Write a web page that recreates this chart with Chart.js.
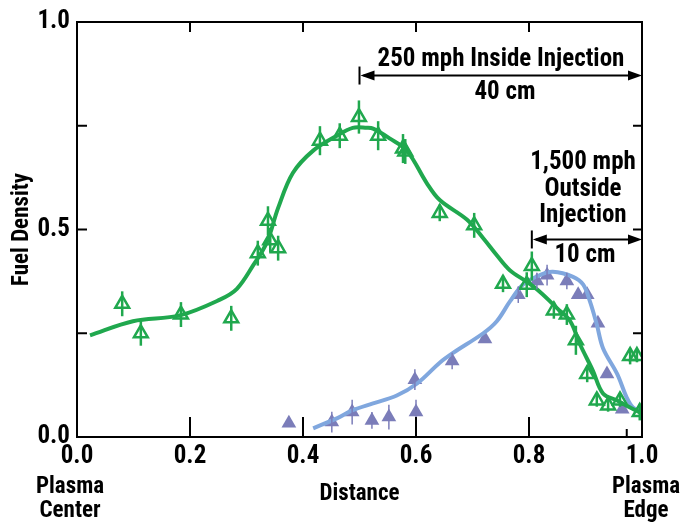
<!DOCTYPE html>
<html>
<head>
<meta charset="utf-8">
<script src="https://cdn.jsdelivr.net/npm/chart.js@4/dist/chart.umd.min.js"></script>
<style>
html,body{margin:0;padding:0;background:#fff;}
#wrap{width:684px;height:527px;}
</style>
</head>
<body>
<div id="wrap"><canvas id="c" width="684" height="527"></canvas></div>
<script>
// ---- data ----
const xTickValues = [0, 0.2, 0.4, 0.6, 0.8, 1.0];
const yTickValues = [0, 0.5, 1.0];
const minorYTicks = [0.25, 0.5, 0.75];
const minorXTicks = [0.2, 0.4, 0.6, 0.8];

// 250 mph inside injection (green)
const insideX = [0.080,0.113,0.184,0.273,0.320,0.338,0.342,0.356,0.430,0.465,0.499,0.533,0.577,0.581,0.642,0.703,0.754,0.796,0.805,0.844,0.867,0.883,0.903,0.920,0.940,0.961,0.979,0.991,0.996];
const insideY = [0.321,0.250,0.295,0.286,0.443,0.521,0.474,0.455,0.714,0.726,0.771,0.726,0.695,0.688,0.540,0.510,0.369,0.367,0.412,0.305,0.295,0.233,0.152,0.088,0.076,0.088,0.195,0.195,0.060];
const insideErr = [0.03,0.03,0.03,0.03,0.03,0.035,0.03,0.03,0.035,0.03,0.04,0.035,0.035,0.03,0.02,0.03,0.02,0.03,0.035,0.02,0.025,0.035,0.02,0.015,0.015,0.015,0.02,0.015,0.02];
const insideFitX = [0.023,0.099,0.182,0.253,0.283,0.312,0.336,0.356,0.382,0.418,0.460,0.488,0.513,0.524,0.554,0.584,0.619,0.642,0.690,0.719,0.743,0.766,0.796,0.819,0.850,0.873,0.890,0.913,0.931,0.956,0.979,1.0];
const insideFitY = [0.245,0.279,0.293,0.331,0.357,0.414,0.469,0.552,0.636,0.690,0.726,0.745,0.745,0.743,0.719,0.690,0.612,0.571,0.524,0.479,0.438,0.402,0.374,0.350,0.310,0.279,0.224,0.160,0.105,0.088,0.071,0.057];

// 1,500 mph outside injection (purple / blue)
const outsideX = [0.375,0.451,0.487,0.522,0.552,0.600,0.598,0.664,0.722,0.781,0.814,0.832,0.867,0.887,0.903,0.922,0.938,0.965];
const outsideY = [0.033,0.036,0.060,0.040,0.048,0.060,0.138,0.183,0.236,0.343,0.376,0.390,0.376,0.343,0.343,0.274,0.152,0.067];
const outsideErr = [0,0.025,0.03,0.02,0.03,0.03,0.025,0.02,0,0.02,0.02,0.025,0.02,0,0,0,0,0];
const outsideFitX = [0.418,0.460,0.487,0.524,0.566,0.602,0.642,0.665,0.719,0.743,0.766,0.789,0.819,0.842,0.878,0.896,0.908,0.920,0.931,0.956,0.973,0.984,1.0];
const outsideFitY = [0.021,0.045,0.064,0.081,0.100,0.129,0.179,0.202,0.250,0.279,0.326,0.367,0.390,0.398,0.386,0.367,0.326,0.271,0.214,0.152,0.095,0.071,0.060];

const GREEN = '#20a84e';
const PURPLE = '#7b7db9';
const BLUE = '#80a7de';
const FONT = "'Liberation Sans Narrow','Arial Narrow','Roboto Condensed','Liberation Sans',sans-serif";

const pts = (xs, ys) => xs.map((x, i) => ({x, y: ys[i]}));

const decor = {
  id: 'decor',
  afterDatasetsDraw(chart) {
    const {ctx, chartArea: a, scales: {x, y}} = chart;
    ctx.save();
    // error bars
    const drawErr = (xs, ys, es, color, w) => {
      ctx.strokeStyle = color; ctx.lineWidth = w;
      xs.forEach((xv, i) => {
        if (!es[i]) return;
        const px = x.getPixelForValue(xv);
        ctx.beginPath();
        ctx.moveTo(px, y.getPixelForValue(ys[i] - es[i]));
        ctx.lineTo(px, y.getPixelForValue(ys[i] + es[i]));
        ctx.stroke();
      });
    };
    drawErr(outsideX, outsideY, outsideErr, PURPLE, 1.5);
    drawErr(insideX, insideY, insideErr, GREEN, 2.5);
    // frame top/right
    ctx.strokeStyle = '#000'; ctx.lineWidth = 2;
    ctx.beginPath();
    ctx.moveTo(a.left, a.top); ctx.lineTo(a.right, a.top); ctx.lineTo(a.right, a.bottom);
    ctx.stroke();
    // inward ticks
    ctx.lineWidth = 2;
    minorXTicks.forEach(v => {
      const px = x.getPixelForValue(v);
      ctx.beginPath(); ctx.moveTo(px, a.bottom); ctx.lineTo(px, a.bottom - 20); ctx.stroke();
      ctx.beginPath(); ctx.moveTo(px, a.top); ctx.lineTo(px, a.top + 10); ctx.stroke();
    });
    { const px = x.getPixelForValue(0.973);
      ctx.beginPath(); ctx.moveTo(px, a.bottom); ctx.lineTo(px, a.bottom - 8); ctx.stroke(); }
    minorYTicks.forEach(v => {
      const py = y.getPixelForValue(v);
      ctx.beginPath(); ctx.moveTo(a.left, py); ctx.lineTo(a.left + 10, py); ctx.stroke();
      ctx.beginPath(); ctx.moveTo(a.right, py); ctx.lineTo(a.right - 9, py); ctx.stroke();
    });
    // annotations
    ctx.fillStyle = '#000';
    ctx.textAlign = 'center'; ctx.textBaseline = 'middle';
    ctx.font = "bold 25px " + FONT;
    const arrow = (x1, x2, py) => {
      ctx.lineWidth = 2;
      ctx.beginPath(); ctx.moveTo(x1, py - 9); ctx.lineTo(x1, py + 9); ctx.stroke();
      ctx.beginPath(); ctx.moveTo(x1 + 4, py); ctx.lineTo(x2 - 4, py); ctx.stroke();
      ctx.beginPath(); ctx.moveTo(x1 + 1, py); ctx.lineTo(x1 + 15, py - 5); ctx.lineTo(x1 + 15, py + 5); ctx.closePath(); ctx.fill();
      ctx.beginPath(); ctx.moveTo(x2, py); ctx.lineTo(x2 - 14, py - 5); ctx.lineTo(x2 - 14, py + 5); ctx.closePath(); ctx.fill();
    };
    const ax1 = x.getPixelForValue(0.5), ax2 = x.getPixelForValue(1.0);
    ctx.fillText('250 mph Inside Injection', 501, y.getPixelForValue(0.910));
    arrow(ax1, ax2, y.getPixelForValue(0.871));
    ctx.fillText('40 cm', 505, y.getPixelForValue(0.829));
    const bx1 = x.getPixelForValue(0.805);
    ctx.fillText('1,500 mph', 583, y.getPixelForValue(0.660));
    ctx.fillText('Outside', 583, y.getPixelForValue(0.596));
    ctx.fillText('Injection', 583, y.getPixelForValue(0.533));
    arrow(bx1, ax2, y.getPixelForValue(0.476));
    ctx.fillText('10 cm', 585, y.getPixelForValue(0.436));
    // end labels under x axis
    ctx.font = "bold 23px " + FONT;
    ctx.fillText('Plasma', 70, 487);
    ctx.fillText('Center', 70, 511);
    ctx.fillText('Plasma', 646, 487);
    ctx.fillText('Edge', 646, 511);
    ctx.restore();
  }
};

new Chart(document.getElementById('c'), {
  data: {
    datasets: [
      {type: 'scatter', label: '250 mph Inside Injection', data: pts(insideX, insideY), pointStyle: 'triangle',
       pointRadius: 8, pointBorderWidth: 2.5, borderColor: GREEN, backgroundColor: 'rgba(255,255,255,0)', order: 1},
      {type: 'line', label: 'Inside fit', data: pts(insideFitX, insideFitY), borderColor: GREEN, borderWidth: 4,
       pointRadius: 0, tension: 0.35, fill: false, order: 2},
      {type: 'line', label: 'Outside fit', data: pts(outsideFitX, outsideFitY), borderColor: BLUE, borderWidth: 4,
       pointRadius: 0, tension: 0.35, fill: false, order: 3},
      {type: 'scatter', label: '1,500 mph Outside Injection', data: pts(outsideX, outsideY), pointStyle: 'triangle',
       pointRadius: 8.5, pointBorderWidth: 0, borderColor: PURPLE, backgroundColor: PURPLE, order: 4}
    ]
  },
  options: {
    responsive: false,
    animation: false,
    layout: {padding: {left: 0, right: 42, top: 17, bottom: 19}},
    plugins: {legend: {display: false}, tooltip: {enabled: false}},
    scales: {
      x: {
        type: 'linear', min: 0, max: 1,
        afterBuildTicks: s => { s.ticks = xTickValues.map(v => ({value: v})); },
        afterFit: s => { s.height = 71; },
        ticks: {callback: v => Number(v).toFixed(1), color: '#000', padding: 5,
                font: {family: FONT, size: 25, weight: 'bold'}, maxRotation: 0},
        grid: {display: false, drawTicks: false},
        border: {display: true, color: '#000', width: 2},
        title: {display: true, text: 'Distance', color: '#000', padding: {top: 0, bottom: 0},
                font: {family: FONT, size: 23, weight: 'bold'}}
      },
      y: {
        type: 'linear', min: 0, max: 1,
        afterBuildTicks: s => { s.ticks = yTickValues.map(v => ({value: v})); },
        afterFit: s => { s.width = 77; },
        ticks: {callback: v => Number(v).toFixed(1), color: '#000', padding: 7,
                font: {family: FONT, size: 25, weight: 'bold'}},
        grid: {display: false, drawTicks: false},
        border: {display: true, color: '#000', width: 2},
        title: {display: true, text: 'Fuel Density', color: '#000', padding: {top: 8, bottom: 0},
                font: {family: FONT, size: 23, weight: 'bold'}}
      }
    }
  },
  plugins: [decor]
});
</script>
</body>
</html>
